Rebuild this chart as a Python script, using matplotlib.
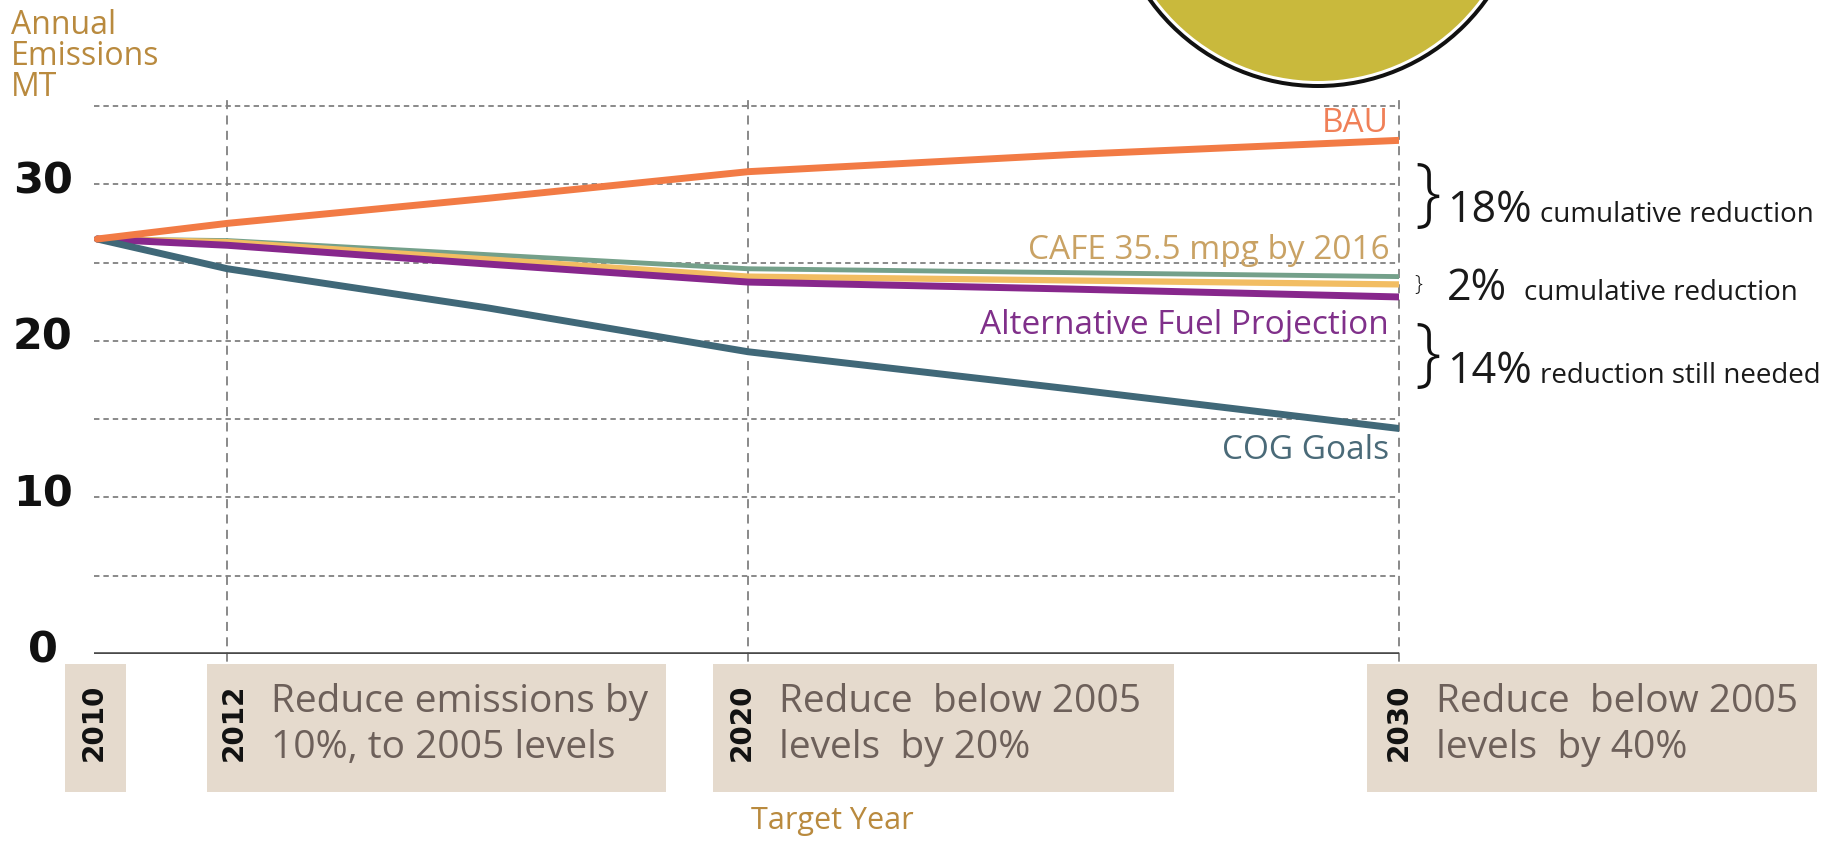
import numpy as np
import matplotlib.pyplot as plt
from matplotlib.patches import Rectangle, Ellipse
from matplotlib.transforms import blended_transform_factory

# datos
years = [2010, 2012, 2016, 2020, 2025, 2030]
bau = [26.5, 27.5, 29.1, 30.8, 31.9, 32.8]
cog = [26.5, 24.6, 22.1, 19.3, 16.9, 14.4]
alt_fuel = [26.5, 26.1, 24.9, 23.75, 23.3, 22.8]
cafe = [26.5, 26.3, 25.2, 24.1, 23.85, 23.6]
green = [26.5, 26.4, 25.5, 24.6, 24.35, 24.1]

yticks = [0, 10, 20, 30]
grid_y = [5, 10, 15, 20, 25, 30, 35]
target_years = [2012, 2020, 2030]
box_years = ['2010', '2012', '2020', '2030']
box_texts = ['', 'Reduce emissions by\n10%, to 2005 levels',
             'Reduce  below 2005\nlevels  by 20%',
             'Reduce  below 2005\nlevels  by 40%']
notes_big = ['18%', '2%', '14%']
notes_small = ['cumulative reduction', 'cumulative reduction', 'reduction still needed']

W, H = 1843, 843
fig = plt.figure(figsize=(W / 100, H / 100), dpi=100)
FONT = ['Open Sans', 'DejaVu Sans']


def px(x, y):
    # pixel (desde arriba) -> fraccion de figura
    return x / W, 1 - y / H


# ejes: 2010 en x=94, 2030 en x=1399, y=0 en 654, 15.66 px por unidad
ymax = 36
ax = fig.add_axes([94 / W, (H - 654) / H, (1399 - 94) / W, ymax * 15.66 / H])
ax.set_xlim(2009.95, 2030)
ax.set_ylim(0, ymax)
ax.axis('off')

# cuadricula
for g in grid_y:
    ax.plot([2009.95, 2030], [g, g], color='#808080', lw=1.3, ls=(0, (3, 2.2)), zorder=1)
for t in target_years:
    ax.plot([t, t], [-1.5, 35.7], color='#808080', lw=1.3, ls=(0, (5, 3.5)),
            zorder=1, clip_on=False)
ax.plot([2009.95, 2030.05], [0, 0], color='#4a4a4a', lw=2.6, zorder=2, solid_capstyle='butt')

# lineas
ax.plot(years, green, color='#74a08a', lw=3.5, zorder=3, solid_capstyle='round')
ax.plot(years, cafe, color='#f2bd62', lw=4.5, zorder=4, solid_capstyle='round')
ax.plot(years, alt_fuel, color='#87278c', lw=5, zorder=5, solid_capstyle='round')
ax.plot(years, cog, color='#406878', lw=5, zorder=6, solid_capstyle='round')
ax.plot(years, bau, color='#f27b45', lw=5, zorder=7, solid_capstyle='round')

# etiquetas de las lineas
ax.text(2029.85, 33.9, 'BAU', color='#f08058', fontsize=24, family=FONT,
        ha='right', va='center')
ax.text(2029.85, 25.75, 'CAFE 35.5 mpg by 2016', color='#c9a264', fontsize=24,
        family=FONT, ha='right', va='center')
ax.text(2029.85, 21.0, 'Alternative Fuel Projection', color='#80308a', fontsize=24,
        family=FONT, ha='right', va='center')
ax.text(2029.85, 13.0, 'COG Goals', color='#4a6a78', fontsize=24, family=FONT,
        ha='right', va='center')

# numeros del eje y
tr = blended_transform_factory(fig.transFigure, ax.transData)
for v in yticks:
    ax.text(43 / W, v + 0.2, str(v), transform=tr, fontsize=31, fontweight='bold',
            ha='center', va='center', color='#111111')

fig.text(*px(11, 9), 'Annual\nEmissions\nMT', color='#b98a3e', fontsize=23,
         family=FONT, ha='left', va='top', linespacing=0.92)
fig.text(*px(832, 806), 'Target Year', color='#b98a3e', fontsize=22,
         family=FONT, ha='center', va='top')

# llaves y notas a la derecha
brace_x = [1428, 1418, 1428]
brace_y = [197, 285, 357]
brace_size = [54, 16, 54]
base_y = [222, 300, 383]
small_x = [1540, 1524, 1540]
for bx, by, bs in zip(brace_x, brace_y, brace_size):
    fig.text(*px(bx, by), '}', fontsize=bs, ha='center', va='center',
             color='#111111', family=FONT, fontweight='light')
for big, small, yb, sx in zip(notes_big, notes_small, base_y, small_x):
    fig.text(*px(1447, yb), big, fontsize=31, family=FONT, color='#1a1a1a',
             va='baseline', ha='left')
    fig.text(*px(sx, yb), small, fontsize=20, family=FONT, color='#1a1a1a',
             va='baseline', ha='left')

# cajas de objetivos
box_x = [(65, 126), (207, 666), (713, 1174), (1367, 1817)]
year_x = [94, 234, 742, 1399]
for (x0, x1), yr, txt, yx in zip(box_x, box_years, box_texts, year_x):
    fx0, fy1 = px(x0, 664)
    fx1, fy0 = px(x1, 792)
    fig.add_artist(Rectangle((fx0, fy0), fx1 - fx0, fy1 - fy0,
                             transform=fig.transFigure, facecolor='#e5dacd',
                             edgecolor='none', zorder=3))
    fig.text(*px(yx, 722), yr, rotation=90, fontsize=20, fontweight='bold',
             ha='center', va='center', color='#111111', zorder=4)
    if txt:
        fig.text(*px(yx + 37, 725), txt, fontsize=28, family=FONT, color='#6d605a',
                 ha='left', va='center', linespacing=1.3, zorder=4)

# circulo decorativo arriba
cx, cy = px(1318, -121)
for r, fc in [(209, '#111111'), (205, 'white'), (202, '#c9b93c')]:
    fig.add_artist(Ellipse((cx, cy), 2 * r / W, 2 * r / H, transform=fig.transFigure,
                           facecolor=fc, edgecolor='none', zorder=2))

plt.savefig('out.png', dpi=100)
